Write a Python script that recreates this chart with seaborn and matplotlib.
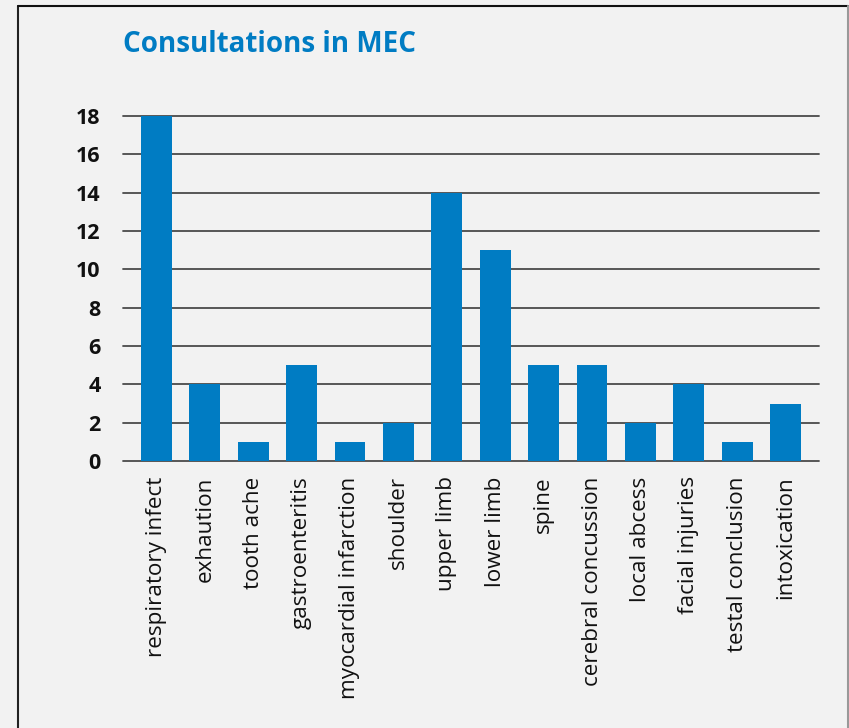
import matplotlib
matplotlib.use("Agg")
import matplotlib.pyplot as plt
import seaborn as sns
import pandas as pd
from matplotlib.lines import Line2D

categories = ["respiratory infect", "exhaution", "tooth ache", "gastroenteritis",
              "myocardial infarction", "shoulder", "upper limb", "lower limb", "spine",
              "cerebral concussion", "local abcess", "facial injuries",
              "testal conclusion", "intoxication"]
values = [18, 4, 1, 5, 1, 2, 14, 11, 5, 5, 2, 4, 1, 3]
yticks = [0, 2, 4, 6, 8, 10, 12, 14, 16, 18]
title = "Consultations in MEC"

BG = "#f2f2f2"
BLUE = "#007cc3"

sns.set_style("white")
plt.rcParams["font.family"] = ["Open Sans", "DejaVu Sans"]

W, H = 849, 728
fig = plt.figure(figsize=(W / 100, H / 100), dpi=100, facecolor=BG)
ax = fig.add_axes([123 / W, 1 - 461 / H, (819 - 123) / W, (461 - 116) / H])
ax.set_facecolor(BG)

df = pd.DataFrame({"cat": categories, "val": values})
sns.barplot(data=df, x="cat", y="val", color=BLUE, saturation=1, width=0.64,
            linewidth=0, ax=ax, zorder=3)

ax.set_xlim(-0.69, 13.69)
ax.set_ylim(0, 18)
ax.set_yticks(yticks)
ax.set_yticklabels([str(t) for t in yticks], fontsize=15.5, fontweight="bold", color="#111111")
ax.set_xticks(range(len(categories)))
ax.set_xticklabels(categories, rotation=90, fontsize=16.2, color="#111111")
ax.tick_params(axis="x", length=0, pad=11)
ax.tick_params(axis="y", length=0, pad=16)
ax.set_xlabel("")
ax.set_ylabel("")
for s in ax.spines.values():
    s.set_visible(False)
for t in yticks:
    ax.axhline(t, color="#4a4a4a", linewidth=1.3, zorder=1, clip_on=False)

fig.text(123 / W, 1 - 52 / H, title, fontsize=20, fontweight="bold", color=BLUE,
         ha="left", va="baseline")

# frame lines
fig.add_artist(Line2D([17.5 / W, 17.5 / W], [0, 1 - 6 / H], color="#222222", linewidth=1.5,
                      transform=fig.transFigure))
fig.add_artist(Line2D([17.5 / W, 848 / W], [1 - 6 / H, 1 - 6 / H], color="#111111", linewidth=1.5,
                      transform=fig.transFigure))
fig.add_artist(Line2D([848 / W, 848 / W], [0, 1 - 6 / H], color="#999999", linewidth=1.5,
                      transform=fig.transFigure))

fig.savefig("out.png", dpi=100, facecolor=BG)
